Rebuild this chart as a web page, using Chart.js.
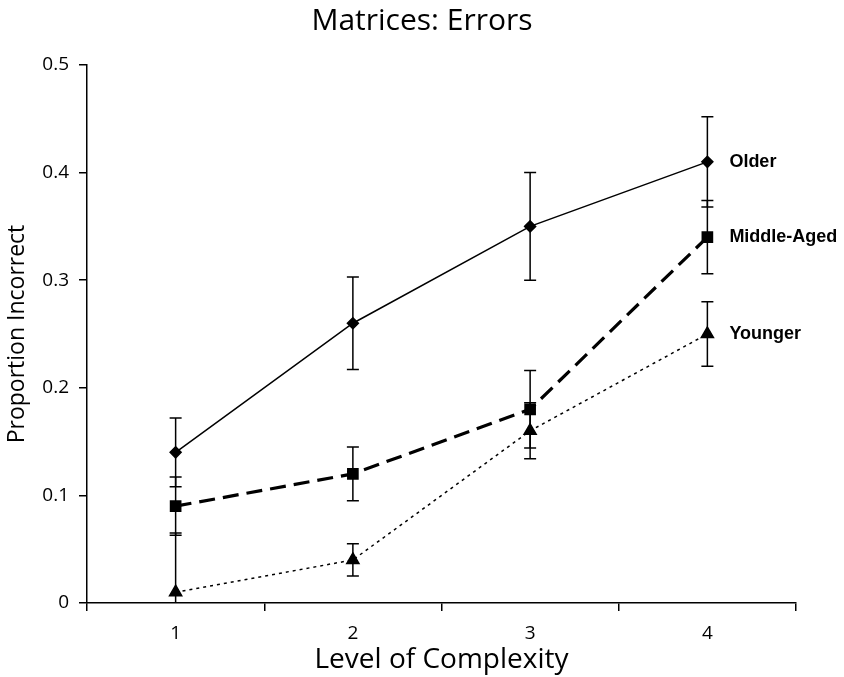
<!DOCTYPE html>
<html>
<head>
<meta charset="utf-8">
<script src="https://cdn.jsdelivr.net/npm/chart.js@4/dist/chart.umd.min.js"></script>
<style>
  html, body { margin: 0; padding: 0; background: #fff; }
  #wrap { width: 844px; height: 677px; }
</style>
</head>
<body>
<div id="wrap"><canvas id="chart" width="844" height="677"></canvas></div>
<script>
// ─── DATA ─────────────────────────────────────────────────────
const levels      = ['1', '2', '3', '4'];
const olderVals   = [0.14, 0.26, 0.35, 0.41];
const olderErr    = [0.032, 0.043, 0.05, 0.042];
const middleVals  = [0.09, 0.12, 0.18, 0.34];
const middleErr   = [0.027, 0.025, 0.036, 0.034];
const youngerVals = [0.01, 0.04, 0.16, 0.25];
const youngerErr  = [0.055, 0.015, 0.026, 0.03];
const seriesNames = ['Older', 'Middle-Aged', 'Younger'];

const FONT = "'Open Sans', 'DejaVu Sans', sans-serif";

// ─── ERROR BARS + END LABELS ──────────────────────────────────
const errorBars = {
  id: 'errorBars',
  beforeDatasetsDraw(chart) {
    const { ctx, chartArea, scales } = chart;
    chart.data.datasets.forEach((ds, di) => {
      const meta = chart.getDatasetMeta(di);
      ds.errors.forEach((e, i) => {
        const x = meta.data[i].x;
        const v = ds.data[i];
        const yTop = scales.y.getPixelForValue(v + e);
        const yBot = Math.min(scales.y.getPixelForValue(v - e), chartArea.bottom);
        ctx.save();
        ctx.strokeStyle = '#000';
        ctx.lineWidth = 1.5;
        ctx.beginPath();
        ctx.moveTo(x, yTop); ctx.lineTo(x, yBot);
        ctx.moveTo(x - 6, yTop); ctx.lineTo(x + 6, yTop);
        if (v - e >= 0) { ctx.moveTo(x - 6, yBot); ctx.lineTo(x + 6, yBot); }
        ctx.stroke();
        ctx.restore();
      });
    });
  },
  afterDatasetsDraw(chart) {
    const { ctx } = chart;
    ctx.save();
    ctx.fillStyle = '#000';
    ctx.font = "bold 18px 'Liberation Sans', Arial, sans-serif";
    ctx.textBaseline = 'middle';
    chart.data.datasets.forEach((ds, di) => {
      const meta = chart.getDatasetMeta(di);
      const p = meta.data[meta.data.length - 1];
      ctx.fillText(ds.label, p.x + 22, p.y);
    });
    ctx.restore();
  }
};

// ─── CHART ────────────────────────────────────────────────────
new Chart(document.getElementById('chart'), {
  type: 'line',
  data: {
    labels: levels,
    datasets: [
      {
        label: seriesNames[0], data: olderVals, errors: olderErr,
        borderColor: '#000', backgroundColor: '#000', borderWidth: 1.5,
        pointStyle: 'rectRot', pointRadius: 5.5, tension: 0
      },
      {
        label: seriesNames[1], data: middleVals, errors: middleErr,
        borderColor: '#000', backgroundColor: '#000', borderWidth: 3.2,
        borderDash: [16, 8],
        pointStyle: 'rect', pointRadius: 6, tension: 0
      },
      {
        label: seriesNames[2], data: youngerVals, errors: youngerErr,
        borderColor: '#000', backgroundColor: '#000', borderWidth: 1.5,
        borderDash: [3, 4],
        pointStyle: 'triangle', pointRadius: 7, tension: 0
      }
    ]
  },
  options: {
    responsive: false,
    animation: false,
    layout: { padding: 0 },
    plugins: {
      legend: { display: false },
      tooltip: { enabled: false },
      title: {
        display: true,
        text: 'Matrices: Errors',
        color: '#000',
        font: { family: FONT, size: 30, weight: 'normal' },
        padding: { top: 3, bottom: 26 }
      }
    },
    scales: {
      x: {
        offset: true,
        afterFit: s => { s.height = 74; },
        grid: { offset: true, drawOnChartArea: false, drawTicks: true, tickLength: 8, color: '#000', lineWidth: 1.5 },
        border: { display: true, color: '#000', width: 1.5 },
        ticks: { color: '#000', padding: 11, font: { family: FONT, size: 19 } },
        title: {
          display: true, text: 'Level of Complexity', color: '#000',
          font: { family: FONT, size: 28 }, padding: { top: 0, bottom: 0 }
        }
      },
      y: {
        min: 0, max: 0.5,
        afterFit: s => { s.width = 87; },
        grid: { drawOnChartArea: false, drawTicks: true, tickLength: 8, color: '#000', lineWidth: 1.5 },
        border: { display: true, color: '#000', width: 1.5 },
        ticks: { stepSize: 0.1, color: '#000', padding: 10, font: { family: FONT, size: 19 } },
        title: {
          display: true, text: 'Proportion Incorrect', color: '#000',
          font: { family: FONT, size: 23 }, padding: { top: 4, bottom: 0 }
        }
      },
      // empty right-hand axis only reserves the margin for the end labels
      yRight: {
        position: 'right',
        min: 0, max: 0.5,
        afterFit: s => { s.width = 48; },
        grid: { display: false },
        border: { display: false },
        ticks: { display: false }
      }
    }
  },
  plugins: [errorBars]
});
</script>
</body>
</html>
